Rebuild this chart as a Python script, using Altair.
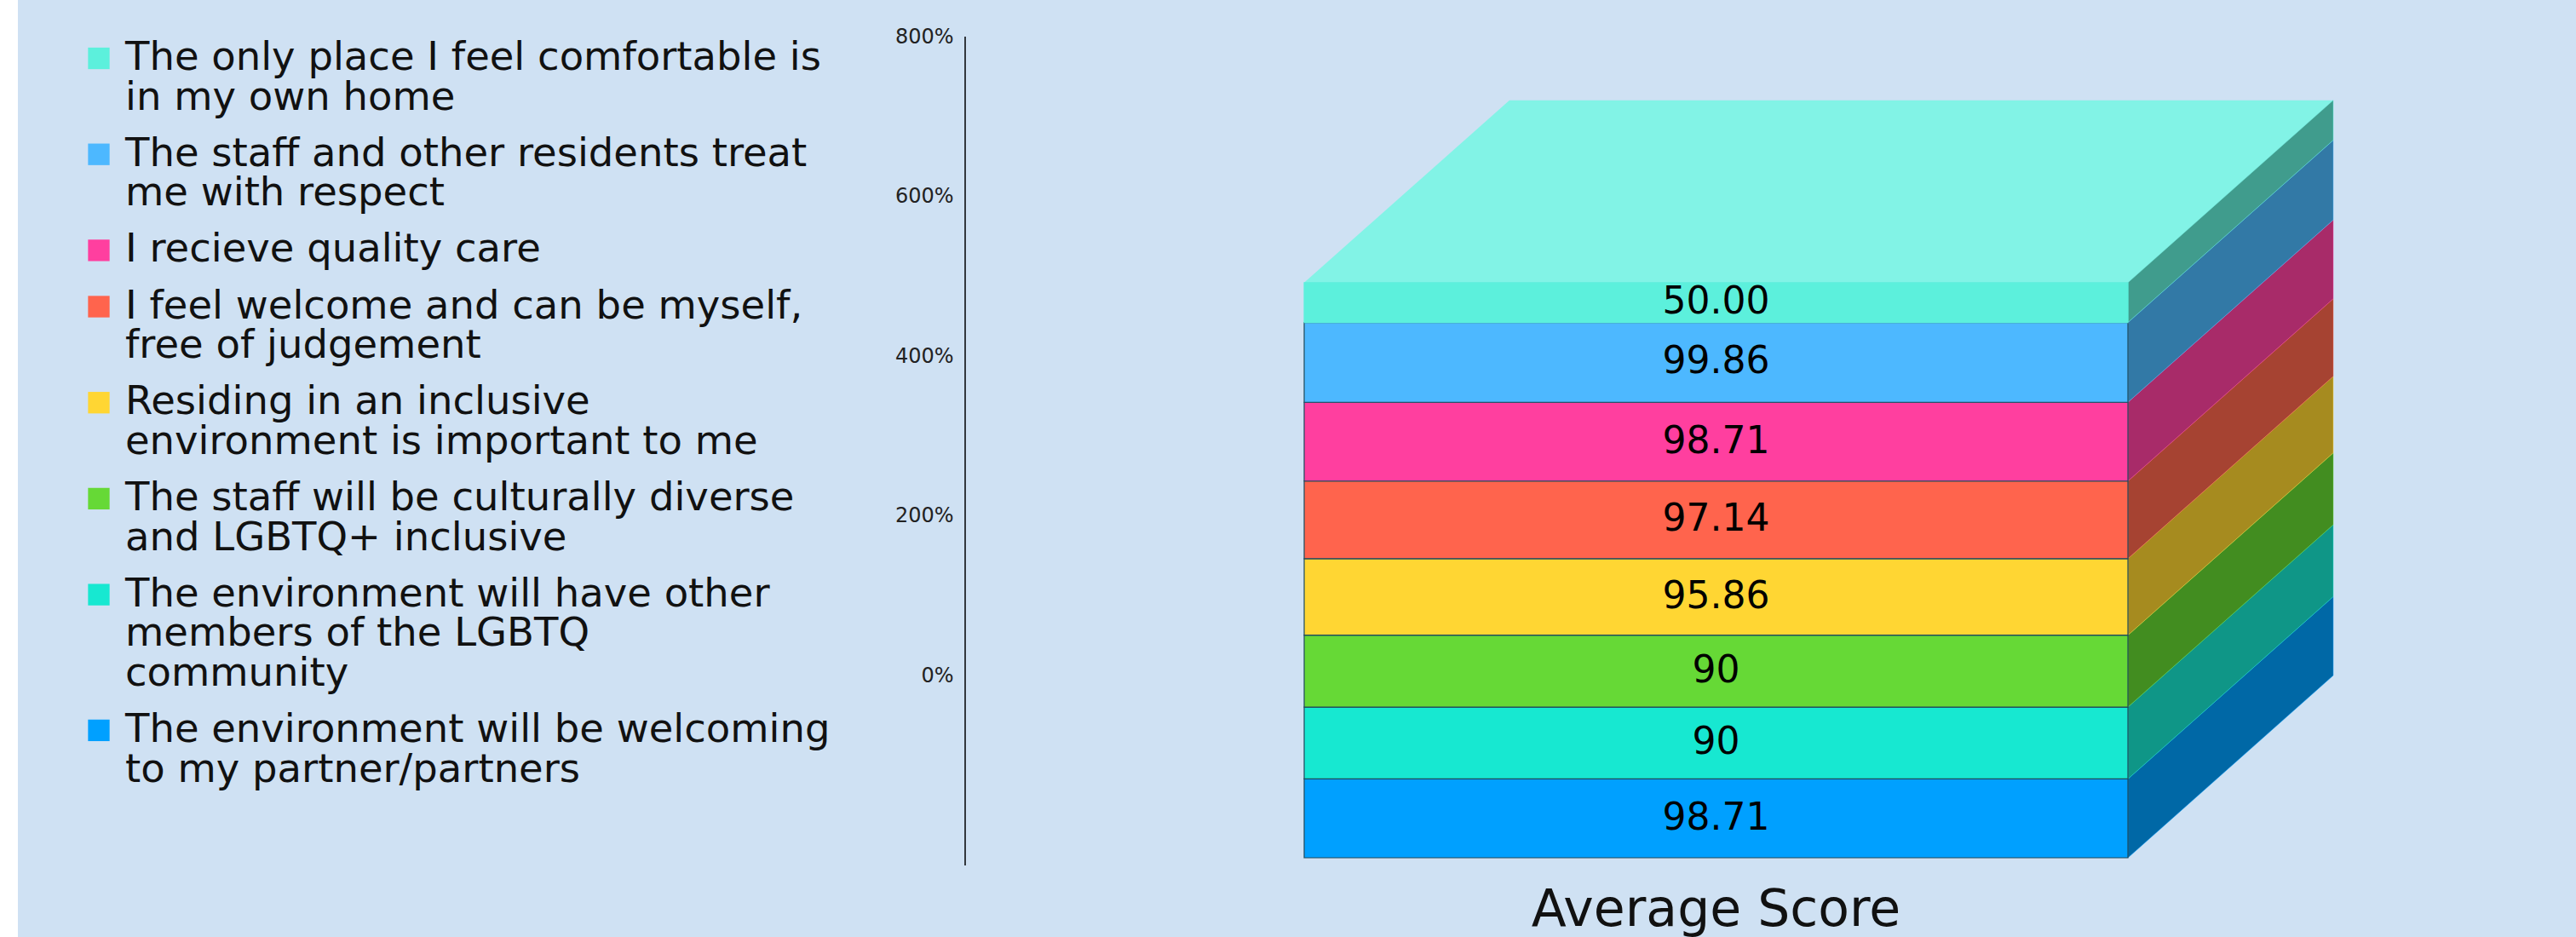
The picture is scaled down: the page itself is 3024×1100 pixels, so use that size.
import altair as alt
import pandas as pd

# Survey statements, bottom of the stack first
statements = [
    "The environment will be welcoming to my partner/partners",
    "The environment will have other members of the LGBTQ community",
    "The staff will be culturally diverse and LGBTQ+ inclusive",
    "Residing in an inclusive environment is important to me",
    "I feel welcome and can be myself, free of judgement",
    "I recieve quality care",
    "The staff and other residents treat me with respect",
    "The only place I feel comfortable is in my own home",
]
scores = [98.71, 90, 90, 95.86, 97.14, 98.71, 99.86, 50.00]
score_labels = ["98.71", "90", "90", "95.86", "97.14", "98.71", "99.86", "50.00"]

front_colors = ["#00A0FF", "#17E8D1", "#66D936", "#FFD633", "#FF644D", "#FF3F9F", "#4DB8FF", "#5CF0DC"]
side_colors = ["#0068A6", "#0F9687", "#428D20", "#A68B1F", "#A64332", "#A82B69", "#3279A6", "#409C8D"]
top_color = "#82F3E6"

# Legend entries, top to bottom, wrapped as displayed
legend_lines = [
    ["The only place I feel comfortable is", "in my own home"],
    ["The staff and other residents treat", "me with respect"],
    ["I recieve quality care"],
    ["I feel welcome and can be myself,", "free of judgement"],
    ["Residing in an inclusive", "environment is important to me"],
    ["The staff will be culturally diverse", "and LGBTQ+ inclusive"],
    ["The environment will have other", "members of the LGBTQ", "community"],
    ["The environment will be welcoming", "to my partner/partners"],
]
legend_colors = front_colors[::-1]

axis_ticks = [0, 200, 400, 600, 800]

WIDTH, HEIGHT = 3024, 1100
BOX_LEFT, BOX_RIGHT = 1531, 2498
DEPTH_X, DEPTH_Y = 241, 214
ZERO_PX, PX_PER_UNIT = 793, 0.9375
BACKGROUND = "#CFE1F3"


def x_units(px):
    """Pixel column expressed in box widths from the front-left corner."""
    return (px - BOX_LEFT) / (BOX_RIGHT - BOX_LEFT)


def y_units(px):
    """Pixel row expressed in percentage-axis units."""
    return (ZERO_PX - px) / PX_PER_UNIT


depth = DEPTH_X / (BOX_RIGHT - BOX_LEFT)
front_shift = -DEPTH_Y / PX_PER_UNIT

x_scale = alt.Scale(domain=[x_units(0), x_units(WIDTH)], nice=False, zero=False)
y_scale = alt.Scale(domain=[y_units(HEIGHT), y_units(0)], nice=False, zero=False)

x_axis = alt.Axis(
    title="Average Score", labels=False, ticks=False, domain=False, grid=False,
    titleFont="DejaVu Sans", titleFontSize=60, titleFontWeight="normal",
    titleColor="#111111", titleX=2014, titleY=-14, titleBaseline="alphabetic",
    titleAnchor="middle", titleAlign="center",
)
y_axis = alt.Axis(
    values=axis_ticks, labelExpr="datum.value + '%'", title=None, domain=False,
    ticks=False, grid=False, labelFont="DejaVu Sans", labelFontSize=24,
    labelColor="#222222", labelPadding=0, offset=-1119,
)

# Stack the scores and project them onto the front and side faces of the box
front_rows, side_rows = [], []
base = 0.0
for label, value, fill, side in zip(score_labels, scores, front_colors, side_colors):
    is_cap = fill == front_colors[-1]
    front_rows.append({
        "x": 0, "x2": 1,
        "y": base + front_shift, "y2": base + value + front_shift,
        "mid": base + value / 2 + front_shift, "cx": 0.5,
        "label": label, "fill": fill,
        "stroke": fill if is_cap else "#1F4A5C",
    })
    for d, shift in ((0, front_shift), (depth, 0)):
        side_rows.append({
            "x": 1 + d, "y": base + shift, "y2": base + value + shift,
            "fill": side, "seam": fill,
        })
    base += value
total = base

top_rows = [
    {"y": total + front_shift, "x": 0, "x2": 1},
    {"y": total, "x": depth, "x2": 1 + depth},
]

# Legend rows: swatch beside the first line of each wrapped entry
LINE_STEP, ENTRY_GAP, LEGEND_TOP = 46.6, 19.5, 68
text_rows, swatch_rows = [], []
cursor = LEGEND_TOP
for lines, color in zip(legend_lines, legend_colors):
    swatch_rows.append({"x": x_units(116), "y": y_units(cursor + 0.5), "fill": color})
    for line in lines:
        text_rows.append({"x": x_units(147), "y": y_units(cursor), "line": line})
        cursor += LINE_STEP
    cursor += ENTRY_GAP

X = lambda field="x:Q": alt.X(field, scale=x_scale, axis=x_axis)
Y = lambda field="y:Q": alt.Y(field, scale=y_scale, axis=y_axis)

margin = (
    alt.Chart(pd.DataFrame({"v": [0]}))
    .mark_rect(color="white")
    .encode(x=alt.value(0), x2=alt.value(21), y=alt.value(0), y2=alt.value(HEIGHT))
)

axis_line = (
    alt.Chart(pd.DataFrame({"x": [x_units(1133)], "y": [800], "y2": [y_units(1016)]}))
    .mark_rule(color="#33383D", strokeWidth=2)
    .encode(x=X(), y=Y(), y2="y2:Q")
)

top_face = (
    alt.Chart(pd.DataFrame(top_rows))
    .mark_area(orient="horizontal", color=top_color)
    .encode(x=X(), x2="x2:Q", y=Y())
)

side_faces = (
    alt.Chart(pd.DataFrame(side_rows))
    .mark_area(strokeWidth=1, strokeOpacity=0.45)
    .encode(
        x=X(), y=Y(), y2="y2:Q",
        fill=alt.Fill("fill:N", scale=None),
        stroke=alt.Stroke("seam:N", scale=None),
    )
)

front_faces = (
    alt.Chart(pd.DataFrame(front_rows))
    .mark_rect(strokeWidth=1.2)
    .encode(
        x=X(), x2="x2:Q", y=Y(), y2="y2:Q",
        fill=alt.Fill("fill:N", scale=None),
        stroke=alt.Stroke("stroke:N", scale=None),
    )
)

score_text = (
    alt.Chart(pd.DataFrame(front_rows))
    .mark_text(font="DejaVu Sans", fontSize=44, color="black", baseline="middle", align="center")
    .encode(x=X("cx:Q"), y=Y("mid:Q"), text="label:N")
)

swatches = (
    alt.Chart(pd.DataFrame(swatch_rows))
    .mark_point(shape="square", filled=True, size=640, opacity=1)
    .encode(x=X(), y=Y(), fill=alt.Fill("fill:N", scale=None))
)

legend_text = (
    alt.Chart(pd.DataFrame(text_rows))
    .mark_text(font="DejaVu Sans", fontSize=46.5, color="#111111", align="left", baseline="middle")
    .encode(x=X(), y=Y(), text="line:N")
)

chart = (
    alt.layer(margin, axis_line, top_face, side_faces, front_faces, score_text, swatches, legend_text)
    .properties(width=WIDTH, height=HEIGHT, background=BACKGROUND, padding=0,
                autosize=alt.AutoSizeParams(type="none"))
    .configure_view(stroke=None)
)

chart.save("out.html", embed_options={"renderer": "svg", "actions": False})
